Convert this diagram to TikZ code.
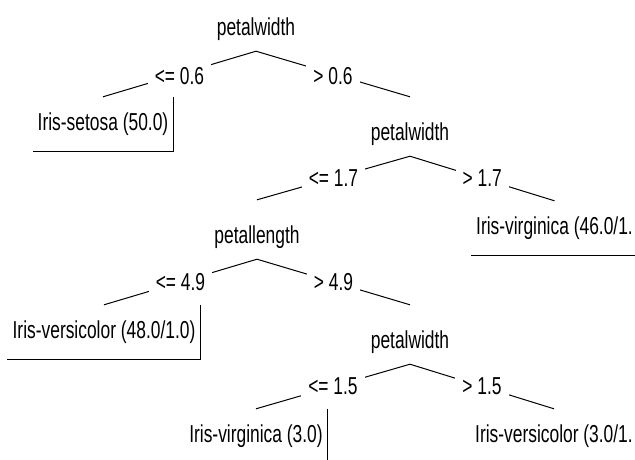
\documentclass[tikz,border=0pt]{standalone}
\usepackage{fontspec}
\setmainfont{Liberation Sans}[FakeStretch=0.71]
\begin{document}
\begin{tikzpicture}[x=1pt,y=-1pt,
  every node/.style={font=\fontsize{24.5}{29}\selectfont, text=black},
  inner/.style={anchor=base, inner xsep=3pt, inner ysep=0pt, text height=43pt, text depth=16pt},
  leaf/.style={anchor=base, inner xsep=5pt, inner ysep=0pt, text height=33pt, text depth=21pt},
  leafw/.style={leaf, anchor=base west},
  edge/.style={draw=black, line width=1pt},
  cond/.style={midway, fill=white, inner xsep=7pt, inner ysep=3pt},
  border/.style={draw=black, line width=1pt}]
\useasboundingbox (0,0) rectangle (635,459);
\clip (0,0) rectangle (635,459);
% nodes
\node[inner] (n0) at (256,35) {petalwidth};
\node[leaf]  (l1) at (103,130) {Iris-setosa (50.0)};
\node[inner] (n1) at (410,140) {petalwidth};
\node[inner] (n2) at (257,243) {petallength};
\node[leafw] (l2) at (471,234) {Iris-virginica (46.0/1.};
\node[leaf]  (l3) at (104,338) {Iris-versicolor (48.0/1.0)};
\node[inner] (n3) at (410,348) {petalwidth};
\node[leaf]  (l4) at (256,442) {Iris-virginica (3.0)};
\node[leafw] (l5) at (470,442) {Iris-versicolor (3.0/1.};
% edges
\draw[edge] (n0.south) -- node[cond, yshift=-2pt]{<= 0.6} (l1.north);
\draw[edge] (n0.south) -- node[cond, yshift=-2pt]{> 0.6} (n1.north);
\draw[edge] (n1.south) -- node[cond]{<= 1.7} (n2.north);
\draw[edge] (n1.south) -- node[cond]{> 1.7} (l2.north);
\draw[edge] (n2.south) -- node[cond]{<= 4.9} (l3.north);
\draw[edge] (n2.south) -- node[cond]{> 4.9} (n3.north);
\draw[edge] (n3.south) -- node[cond]{<= 1.5} (l4.north);
\draw[edge] (n3.south) -- node[cond]{> 1.5} (l5.north);
% leaf box borders (right and bottom sides)
\foreach \l in {l1,l2,l3,l4,l5}
  \draw[border] (\l.north east) -- (\l.south east) -- (\l.south west);
\end{tikzpicture}
\end{document}
